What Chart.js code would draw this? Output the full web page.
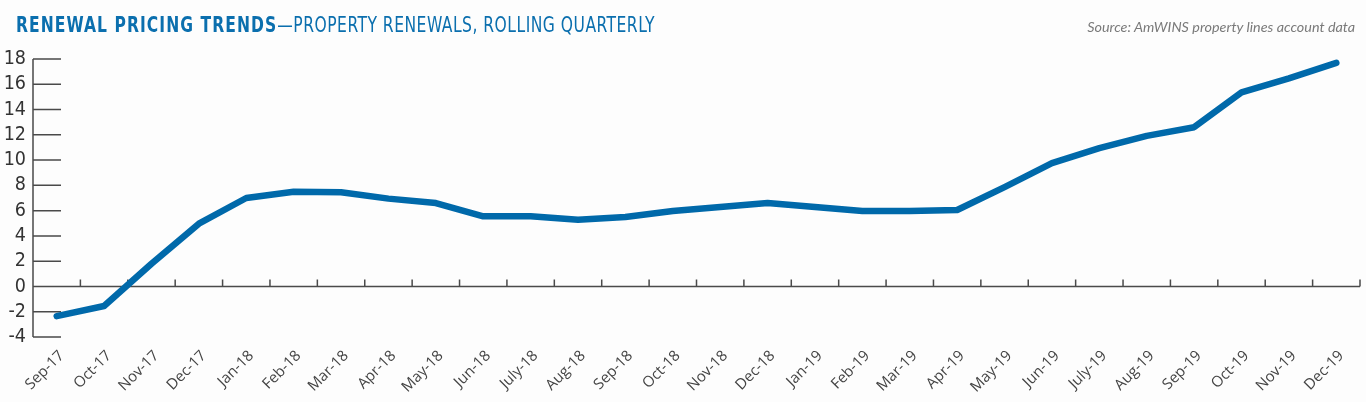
<!DOCTYPE html>
<html>
<head>
<meta charset="utf-8">
<script src="https://cdn.jsdelivr.net/npm/chart.js@4/dist/chart.umd.min.js"></script>
<style>
  html, body { margin: 0; padding: 0; background: #fdfdfd; }
  #wrap { position: relative; width: 1366px; height: 402px; overflow: hidden; }
  #title { position: absolute; left: 16px; top: 13px; white-space: nowrap; color: #0b6fae;
           font-family: "Liberation Sans Narrow", "DejaVu Sans Condensed", Roboto, sans-serif;
           font-size: 21px; transform-origin: 0 0; letter-spacing: 0.6px; }
  #title b { font-weight: 700; letter-spacing: 1.3px; }
  #source { position: absolute; right: 11px; top: 19px; white-space: nowrap; color: #7a7a7a;
            font-family: Lato, "Open Sans", sans-serif; font-style: italic; font-size: 13px;
            transform-origin: 100% 0; }
  canvas { position: absolute; left: 0; top: 0; }
</style>
</head>
<body>
<div id="wrap">
  <canvas id="c" width="1366" height="402"></canvas>
  <div id="title"><b>RENEWAL PRICING TRENDS</b>—PROPERTY RENEWALS, ROLLING QUARTERLY</div>
  <div id="source">Source: AmWINS property lines account data</div>
</div>
<script>
// months along the x axis
const months = ['Sep-17','Oct-17','Nov-17','Dec-17','Jan-18','Feb-18','Mar-18','Apr-18','May-18','Jun-18',
  'July-18','Aug-18','Sep-18','Oct-18','Nov-18','Dec-18','Jan-19','Feb-19','Mar-19','Apr-19',
  'May-19','Jun-19','July-19','Aug-19','Sep-19','Oct-19','Nov-19','Dec-19'];
// renewal pricing change, %
const pricing = [-2.35, -1.55, 1.8, 4.97, 7.0, 7.5, 7.45, 6.95, 6.6, 5.55,
  5.55, 5.28, 5.5, 5.97, 6.28, 6.6, 6.28, 5.97, 5.97, 6.05,
  7.86, 9.76, 10.94, 11.92, 12.6, 15.36, 16.47, 17.7];
const yMin = -4, yMax = 18, yStep = 2;

// fit header texts to the widths seen in the reference
function fitWidth(el, w) {
  const r = el.getBoundingClientRect().width;
  el.style.transform = 'scaleX(' + (w / r) + ')';
}
fitWidth(document.getElementById('title'), 639);
fitWidth(document.getElementById('source'), 268);

const axisColor = '#4a4a4a';

// axis lines + short tick marks, drawn with the chart's own scales
const axisPlugin = {
  id: 'axisLines',
  beforeDatasetsDraw(chart) {
    const { ctx, chartArea, scales: { x, y } } = chart;
    ctx.save();
    ctx.strokeStyle = axisColor;
    ctx.lineWidth = 1.5;
    ctx.beginPath();
    ctx.moveTo(chartArea.left, chartArea.top);
    ctx.lineTo(chartArea.left, chartArea.bottom);
    y.ticks.forEach(t => {
      const py = y.getPixelForValue(t.value);
      ctx.moveTo(chartArea.left, py);
      ctx.lineTo(chartArea.left + 28, py);
    });
    const zy = y.getPixelForValue(0);
    ctx.moveTo(chartArea.left, zy);
    ctx.lineTo(chartArea.right, zy);
    const half = (x.getPixelForValue(1) - x.getPixelForValue(0)) / 2;
    months.forEach((m, i) => {
      const px = x.getPixelForValue(i) + half;
      ctx.moveTo(px, zy);
      ctx.lineTo(px, zy - 7);
    });
    ctx.stroke();
    ctx.restore();
  }
};

new Chart(document.getElementById('c'), {
  type: 'line',
  data: {
    labels: months,
    datasets: [{
      data: pricing,
      borderColor: '#0069aa',
      borderWidth: 6.5,
      borderCapStyle: 'round',
      borderJoinStyle: 'round',
      pointRadius: 0,
      tension: 0
    }]
  },
  options: {
    responsive: false,
    animation: false,
    layout: { padding: { top: 59, right: 6, left: 0, bottom: 0 } },
    plugins: { legend: { display: false }, tooltip: { enabled: false } },
    scales: {
      x: {
        offset: true,
        grid: { display: false, drawTicks: false },
        border: { display: false },
        ticks: {
          autoSkip: false, minRotation: 45, maxRotation: 45, padding: 10, labelOffset: 5,
          color: '#444', font: { family: '"Open Sans", sans-serif', size: 15 }
        },
        afterFit(s) { s.height = 65; }
      },
      y: {
        min: yMin, max: yMax,
        grid: { display: false, drawTicks: false },
        border: { display: false },
        ticks: {
          stepSize: yStep, autoSkip: false, padding: 7, color: '#333',
          font: { family: '"Liberation Sans Narrow", "DejaVu Sans Condensed", Roboto, sans-serif', size: 19.5 }
        },
        afterFit(s) { s.width = 33; }
      }
    }
  },
  plugins: [axisPlugin]
});
</script>
</body>
</html>
